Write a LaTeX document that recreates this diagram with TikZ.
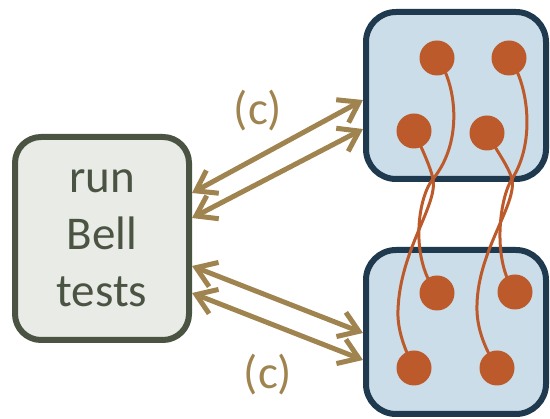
\documentclass[tikz,border=0pt]{standalone}
\usepackage{fontspec}
\setmainfont{Carlito}
\usetikzlibrary{arrows.meta}
\definecolor{testedge}{HTML}{4B5443}
\definecolor{testfill}{HTML}{E8EBE6}
\definecolor{labedge}{HTML}{1F3A4F}
\definecolor{labfill}{HTML}{CBDDE9}
\definecolor{qubit}{HTML}{BD5A2B}
\definecolor{channel}{HTML}{A0844F}
\tikzset{
  testbox/.style={draw=testedge, fill=testfill, line width=6pt, rounded corners=26pt,
    minimum width=174pt, minimum height=203pt, inner sep=0pt,
    text=testedge, align=center, font=\fontsize{47}{57}\selectfont},
  labbox/.style={draw=labedge, fill=labfill, line width=6pt, rounded corners=30pt,
    minimum width=180pt, inner sep=0pt},
  qdot/.style={circle, fill=qubit, minimum size=35pt, inner sep=0pt},
  strand/.style={draw=qubit, line width=3pt},
  link/.style={draw=channel, line width=5pt,
    {Straight Barb[length=19pt,width=26pt]}-{Straight Barb[length=19pt,width=26pt]}},
  tag/.style={text=channel, font=\fontsize{47}{57}\selectfont, inner sep=0pt}
}
\begin{document}
\begin{tikzpicture}[x=1pt,y=-1pt]
  \useasboundingbox (0,0) rectangle (550,419);

  % boxes
  \node[testbox] (lb) at (102,238.5) {run\\Bell\\tests};
  \node[labbox, minimum height=167pt] (tb) at (456,95.5) {};
  \node[labbox, minimum height=164pt] (bb) at (456,332) {};

  % qubit positions
  \coordinate (t1) at (437,58);
  \coordinate (t2) at (509,58);
  \coordinate (t3) at (414,131);
  \coordinate (t4) at (487,133);
  \coordinate (b1) at (437,293);
  \coordinate (b2) at (515,292);
  \coordinate (b3) at (414,368);
  \coordinate (b4) at (497,368);

  % entangled strands, twisted in pairs between the two boxes
  \draw[strand] (t1) .. controls (455,80) and (465,140) .. (433,179)
                     .. controls (417,198.5) and (410,260) .. (b1);
  \draw[strand] (t3) .. controls (420,145) and (430,165) .. (433,179)
                     .. controls (438,205) and (400,250) .. (398,310)
                     .. controls (397,330) and (405,350) .. (b3);
  \draw[strand] (t2) .. controls (527,80) and (537,140) .. (512,179)
                     .. controls (499,199) and (492,262) .. (b2);
  \draw[strand] (t4) .. controls (494,147) and (508,165) .. (512,179)
                     .. controls (517,205) and (478,250) .. (477,305)
                     .. controls (476,330) and (487,352) .. (b4);

  % qubits
  \foreach \q in {t1,t2,t3,t4,b1,b2,b3,b4}
    \node[qdot] (d\q) at (\q) {};

  % classical channels
  \draw[link] ([yshift=45.5pt]lb.east) -- ([yshift=-4.5pt]tb.west);
  \draw[link] ([yshift=20.5pt]lb.east) -- ([yshift=-33.5pt]tb.west);
  \draw[link] ([yshift=-27.5pt]lb.east) -- ([yshift=-1pt]bb.west);
  \draw[link] ([yshift=-54.5pt]lb.east) -- ([yshift=-28pt]bb.west);

  % channel labels
  \node[tag] (c1) at (258,111) {(c)};
  \node[tag] (c2) at (268,375) {(c)};
\end{tikzpicture}
\end{document}
